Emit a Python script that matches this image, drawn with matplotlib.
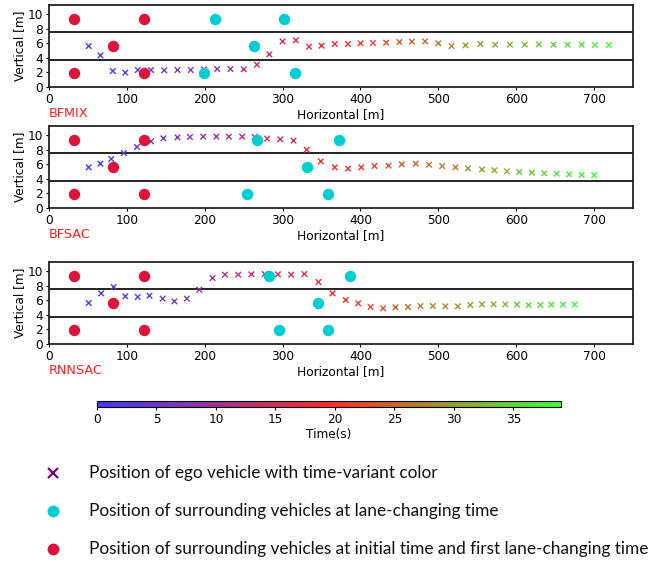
import matplotlib
matplotlib.use("Agg")
import matplotlib.pyplot as plt
import numpy as np
from matplotlib.colors import LinearSegmentedColormap, Normalize

# ---- data ----
methods = ["BFMIX", "BFSAC", "RNNSAC"]
time_s = list(range(40))

ego_x_bfmix = [51, 66, 82, 98, 114, 131, 148, 165, 182, 199, 216, 233, 250, 267, 283,
               300, 317, 334, 350, 367, 384, 400, 416, 433, 450, 466, 483, 500, 517,
               535, 554, 573, 592, 611, 629, 648, 666, 684, 701, 719]
ego_y_bfmix = [5.62, 4.34, 2.19, 1.97, 2.33, 2.33, 2.29, 2.33, 2.33, 2.42, 2.47, 2.47,
               2.42, 3.06, 4.48, 6.26, 6.40, 5.53, 5.67, 5.90, 5.90, 5.99, 6.04, 6.08,
               6.17, 6.22, 6.26, 5.99, 5.62, 5.72, 5.90, 5.81, 5.81, 5.81, 5.85, 5.81,
               5.81, 5.81, 5.76, 5.76]

ego_x_bfsac = [51, 66, 80, 96, 113, 131, 147, 165, 181, 198, 215, 231, 248, 264, 280,
               297, 314, 331, 349, 367, 384, 401, 418, 436, 453, 471, 488, 505, 522,
               538, 556, 572, 588, 604, 620, 636, 652, 668, 684, 700]
ego_y_bfsac = [5.58, 6.08, 6.72, 7.54, 8.37, 9.14, 9.56, 9.69, 9.74, 9.79, 9.79, 9.79,
               9.79, 9.74, 9.51, 9.42, 9.24, 8.00, 6.40, 5.58, 5.40, 5.58, 5.76, 5.81,
               5.99, 6.08, 5.94, 5.76, 5.58, 5.44, 5.30, 5.17, 5.03, 4.94, 4.85, 4.76,
               4.71, 4.62, 4.53, 4.49]

ego_x_rnnsac = [51, 67, 83, 98, 114, 129, 146, 161, 177, 193, 210, 226, 243, 260, 277,
                294, 311, 328, 346, 364, 381, 397, 413, 429, 445, 461, 477, 493, 509,
                525, 541, 556, 571, 586, 601, 616, 631, 645, 660, 675]
ego_y_rnnsac = [5.62, 6.95, 7.82, 6.54, 6.45, 6.63, 6.22, 5.85, 6.22, 7.45, 9.05, 9.51,
                9.51, 9.56, 9.60, 9.56, 9.51, 9.60, 8.50, 6.95, 6.04, 5.58, 5.08, 4.89,
                5.03, 5.08, 5.21, 5.21, 5.17, 5.17, 5.35, 5.44, 5.44, 5.44, 5.40, 5.35,
                5.35, 5.40, 5.40, 5.40]

# surrounding vehicles at initial time / first lane change (same in all three)
init_x = [32, 122, 82, 32, 122]
init_y = [9.375, 9.375, 5.625, 1.875, 1.875]

# surrounding vehicles at lane-changing time
lc_x_bfmix = [213, 302, 263, 199, 316]
lc_y_bfmix = [9.375, 9.375, 5.625, 1.875, 1.875]
lc_x_bfsac = [267, 372, 331, 254, 358]
lc_y_bfsac = [9.375, 9.375, 5.625, 1.875, 1.875]
lc_x_rnnsac = [282, 386, 346, 296, 358]
lc_y_rnnsac = [9.375, 9.375, 5.625, 1.875, 1.875]

lane_lines = [3.75, 7.5]
time_ticks = [0, 5, 10, 15, 20, 25, 30, 35]

legend_labels = [
    "Position of ego vehicle with time-variant color",
    "Position of surrounding vehicles at lane-changing time",
    "Position of surrounding vehicles at initial time and first lane-changing time",
]

panels = [
    (ego_x_bfmix, ego_y_bfmix, lc_x_bfmix, lc_y_bfmix),
    (ego_x_bfsac, ego_y_bfsac, lc_x_bfsac, lc_y_bfsac),
    (ego_x_rnnsac, ego_y_rnnsac, lc_x_rnnsac, lc_y_rnnsac),
]

cmap = LinearSegmentedColormap.from_list("time", ["#3c3cff", "#ff2a2a", "#3cff3c"])
norm = Normalize(vmin=0, vmax=39)
cyan = "#00ced1"
red = "#dc143c"
fs = 8.7

W, H = 657, 563
fig = plt.figure(figsize=(W / 100, H / 100), dpi=100)

# panel boxes in pixels: (top, bottom)
boxes = [(5, 87), (126, 208), (262, 344)]
left_px, right_px = 49, 633

for (top, bot), name, (ex, ey, cx, cy) in zip(boxes, methods, panels):
    ax = fig.add_axes([left_px / W, 1 - bot / H, (right_px - left_px) / W, (bot - top) / H])
    ax.scatter(ex, ey, c=time_s, cmap=cmap, norm=norm, marker="x", s=16,
               linewidths=1.0, zorder=3)
    ax.scatter(cx, cy, color=cyan, s=52, zorder=4)
    ax.scatter(init_x, init_y, color=red, s=52, zorder=4)
    for ly in lane_lines:
        ax.axhline(ly, color="#222222", lw=1.4, zorder=2)
    ax.set_xlim(0, 750)
    ax.set_ylim(0, 11.25)
    ax.set_yticks([0, 2, 4, 6, 8, 10])
    ax.set_xticks([0, 100, 200, 300, 400, 500, 600, 700])
    ax.tick_params(labelsize=fs, length=2.5, pad=2)
    for s in ax.spines.values():
        s.set_linewidth(1.3)
        s.set_color("#222222")
    ax.set_ylabel("Vertical [m]", fontsize=fs, labelpad=1)
    ax.set_xlabel("Horizontal [m]", fontsize=fs, labelpad=1)
    ax.text(0, -0.245, name, transform=ax.transAxes, color="#ff2020",
            fontsize=fs + 0.5, ha="left", va="top")

# colorbar
cax = fig.add_axes([97 / W, 1 - 407 / H, 464 / W, 6.5 / H])
sm = plt.cm.ScalarMappable(cmap=cmap, norm=norm)
cb = fig.colorbar(sm, cax=cax, orientation="horizontal")
cb.set_ticks(time_ticks)
cb.ax.tick_params(labelsize=fs, length=2.5, pad=2)
cb.outline.set_linewidth(0.8)
cb.set_label("Time(s)", fontsize=fs, labelpad=1)

# legend at the bottom
lax = fig.add_axes([0, 0, 1, 1])
lax.set_xlim(0, W)
lax.set_ylim(H, 0)
lax.axis("off")
handles = [
    dict(marker="x", color="#800080", ms=7, mew=1.6),
    dict(marker="o", color=cyan, ms=8.5, mew=0),
    dict(marker="o", color=red, ms=8.5, mew=0),
]
rows_y = [473, 511, 549]
for h, lab, yy in zip(handles, legend_labels, rows_y):
    lax.plot([53], [yy], linestyle="none", **h)
    lax.text(89, yy, lab, fontsize=12.4, family="Lato", va="center", ha="left",
             color="#111111")

fig.savefig("out.png", dpi=100)
